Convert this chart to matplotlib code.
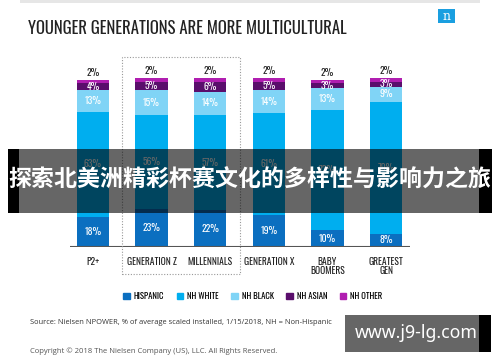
import matplotlib
matplotlib.use('Agg')
import matplotlib.pyplot as plt
from matplotlib.patches import Rectangle, Patch

groups = ['P2+', 'GENERATION Z', 'MILLENNIALS', 'GENERATION X', 'BABY\nBOOMERS', 'GREATEST\nGEN']
hispanic = [18, 23, 22, 19, 10, 8]
nh_white = [63, 56, 57, 61, 72, 79]
nh_black = [13, 15, 14, 14, 13, 9]
nh_asian = [4, 5, 6, 5, 3, 3]
nh_other = [2, 2, 2, 2, 2, 2]
series_names = ['HISPANIC', 'NH WHITE', 'NH BLACK', 'NH ASIAN', 'NH OTHER']
colors = ['#0b6fc0', '#00aeef', '#80d4f6', '#5a0e6c', '#b01eb0']

W, H = 500, 362
narrow = ['Oswald', 'DejaVu Sans']


def fx(px):
    return px / W


def fy(py):
    return 1 - py / H


fig = plt.figure(figsize=(5, 3.62), dpi=100)
renderer = fig.canvas.get_renderer()


def fit(t, width_px):
    # scale a text's font size so it spans the given pixel width
    w = t.get_window_extent(renderer).width
    t.set_fontsize(t.get_fontsize() * width_px / w)


# plot area: x 70..410 px, y 60..247 px (baseline at 247)
ax = fig.add_axes([fx(70), fy(247), fx(340), (247 - 60) / H])
step = 58.6
ax.set_xlim(-23 / step, -23 / step + 340 / step)
ax.set_ylim(0, 187 / 1.67)
for s in ax.spines.values():
    s.set_visible(False)
ax.tick_params(length=0, pad=7)
ax.set_yticks([])

x = list(range(len(groups)))
series = [hispanic, nh_white, nh_black, nh_asian, nh_other]
bottom = [0] * len(groups)
labels = []
for i, (vals, c) in enumerate(zip(series, colors)):
    ax.bar(x, vals, width=0.55, bottom=bottom, color=c, zorder=2)
    for xi, b, v in zip(x, bottom, vals):
        if i < 4:
            t = ax.text(xi, b + v / 2, f'{v}%', ha='center', va='center', color='white',
                        fontsize=8, fontweight='medium', family=narrow, zorder=3)
        else:
            t = ax.annotate(f'{v}%', (xi, b + v), xytext=(0, 1.5), textcoords='offset points',
                            ha='center', va='bottom', color='#222222', fontsize=8,
                            fontweight='bold', family=narrow)
        labels.append(t)
    bottom = [b + v for b, v in zip(bottom, vals)]

fit(labels[6], 18)
for t in labels:
    t.set_fontsize(labels[6].get_fontsize())

ax.axhline(0, color='#555555', lw=1.5, zorder=4)
ax.set_xticks(x)
ax.set_xticklabels(groups, family=narrow, fontweight='semibold', fontsize=7, color='#222222')
ticks = ax.get_xticklabels()
fit(ticks[1], 50)
for lab in ticks:
    lab.set_fontsize(ticks[1].get_fontsize())
    lab.set_linespacing(0.95)

# dotted box around Gen Z / Millennials
fig.add_artist(Rectangle((fx(122), fy(274)), fx(118), (274 - 57) / H, transform=fig.transFigure,
                         fill=False, ec='#999999', ls=(0, (1, 1.5)), lw=0.8))

# title, logo, top band
fig.add_artist(Rectangle((fx(20), fy(3)), fx(460), 3 / H, transform=fig.transFigure,
                         color='#e6e6e6', lw=0))
title = fig.text(fx(28), fy(29), 'YOUNGER GENERATIONS ARE MORE MULTICULTURAL', family=narrow,
                 fontweight='medium', fontsize=12.5, color='#222222', va='center', ha='left')
fit(title, 322)
fig.add_artist(Rectangle((fx(438), fy(23)), fx(17), 14 / H, transform=fig.transFigure,
                         color='#1a9fe0', lw=0))
fig.text(fx(446.5), fy(16.5), 'n', family='DejaVu Serif', fontsize=9, color='white',
         ha='center', va='center')

# legend
handles = [Patch(color=c, label=n) for c, n in zip(colors, series_names)]
leg = fig.legend(handles=handles, loc='center', bbox_to_anchor=(fx(253), fy(296)), ncol=5,
                 frameon=False, handlelength=0.75, handleheight=0.75, handletextpad=0.5,
                 columnspacing=1.5, prop={'family': narrow, 'weight': 'semibold', 'size': 6})
fig.canvas.draw()
lt = leg.get_texts()
fit(lt[0], 31)
for t in lt:
    t.set_fontsize(lt[0].get_fontsize())

src = fig.text(fx(30), fy(322), 'Source: Nielsen NPOWER, % of average scaled installed, 1/15/2018, NH = Non-Hispanic',
               family='Open Sans', fontsize=5.2, color='#333333', va='center')
fit(src, 308)
cop = fig.text(fx(30), fy(351), 'Copyright © 2018 The Nielsen Company (US), LLC. All Rights Reserved.',
               family='Open Sans', fontsize=5.2, color='#555555', va='center')
fit(cop, 250)

# overlay banner
fig.add_artist(Rectangle((fx(8), fy(213)), fx(11), 64 / H, transform=fig.transFigure,
                         color='black', lw=0, zorder=10))
fig.add_artist(Rectangle((fx(19), fy(213)), fx(460), 64 / H, transform=fig.transFigure,
                         color='black', alpha=0.6, lw=0, zorder=10))
fig.add_artist(Rectangle((fx(479), fy(213)), fx(13), 64 / H, transform=fig.transFigure,
                         color='black', lw=0, zorder=10))
ban = fig.text(fx(249.5), fy(180), '探索北美洲精彩杯赛文化的多样性与影响力之旅',
               family=['Noto Sans CJK SC', 'DejaVu Sans'], fontweight='bold', fontsize=16.5,
               color='white', ha='center', va='center', zorder=11)
fit(ban, 481)

# watermark box
fig.add_artist(Rectangle((fx(345), fy(352)), fx(134), 37 / H, transform=fig.transFigure,
                         color='#666666', lw=0, zorder=10))
fig.add_artist(Rectangle((fx(479), fy(352)), fx(12), 37 / H, transform=fig.transFigure,
                         color='black', lw=0, zorder=10))
wm = fig.text(fx(416.5), fy(333), 'www.j9-lg.com', family='Noto Sans', fontweight='bold',
              fontsize=12.5, color='white', ha='center', va='center', zorder=11)
fit(wm, 123)

fig.savefig('out.png', dpi=100)
